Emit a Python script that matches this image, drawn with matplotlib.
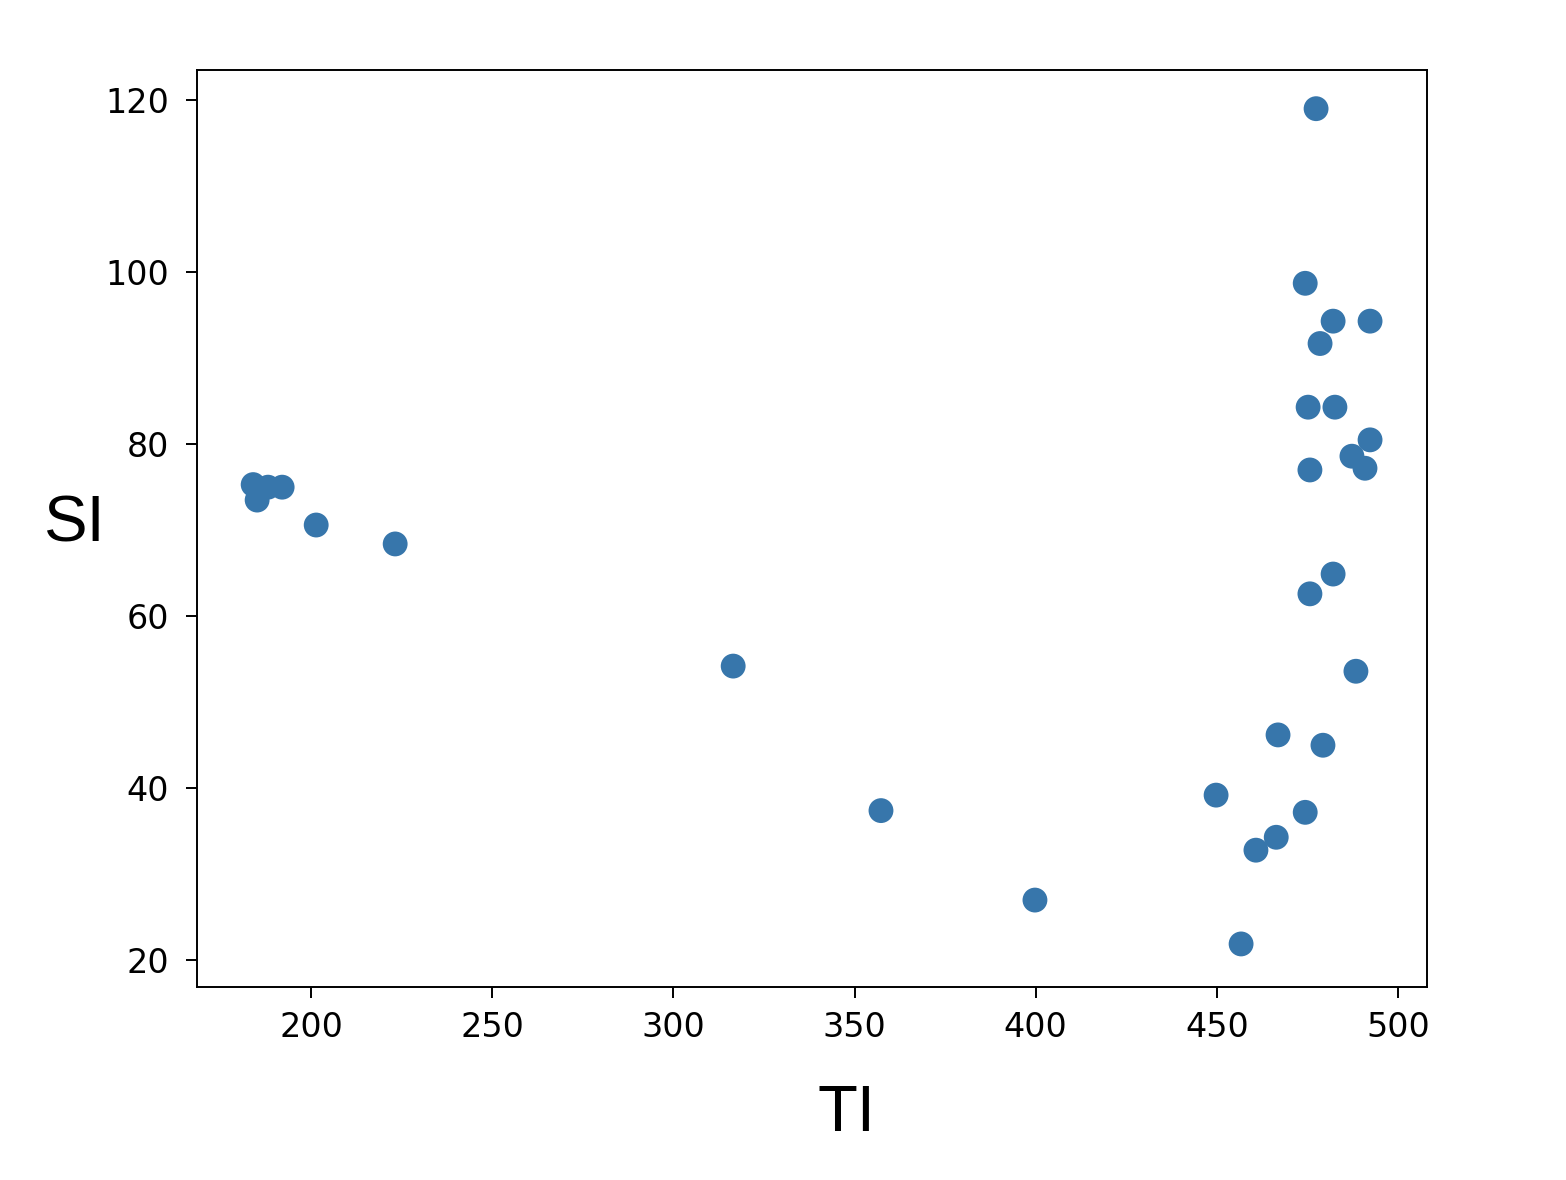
import numpy as np
import matplotlib.pyplot as plt

ti = [184.0, 185.1, 188.1, 192.0, 201.4, 223.2, 316.5, 357.3, 399.8, 449.8,
      456.7, 460.8, 466.4, 466.9, 474.4, 479.3, 488.4, 475.7, 482.1, 475.7,
      487.3, 490.9, 492.3, 475.2, 482.6, 478.5, 482.1, 492.3, 474.4, 477.4]
si = [75.3, 73.5, 75.0, 75.0, 70.6, 68.4, 54.2, 37.4, 27.0, 39.2,
      21.9, 32.8, 34.3, 46.2, 37.2, 45.0, 53.6, 62.6, 64.9, 77.0,
      78.6, 77.2, 80.5, 84.3, 84.3, 91.7, 94.3, 94.3, 98.7, 119.0]

fig = plt.figure(figsize=(15.66, 11.8), dpi=100)
ax = fig.add_axes([0.1258, 0.1636, 0.7854, 0.7771])

ax.scatter(ti, si, s=320, color='#3776ab', edgecolors='none')

ax.set_xlim(168.5, 508.0)
ax.set_ylim(16.9, 123.5)
ax.set_xticks([200, 250, 300, 350, 400, 450, 500])
ax.set_yticks([20, 40, 60, 80, 100, 120])
ax.tick_params(labelsize=24, length=8, width=1.4)
ax.tick_params(axis='x', pad=9)
ax.tick_params(axis='y', pad=12)
for sp in ax.spines.values():
    sp.set_linewidth(1.4)

ax.set_xlabel('TI', fontsize=47, family='Liberation Sans', va='baseline', ha='center')
ax.xaxis.set_label_coords(0.528, -0.157)
ax.set_ylabel('SI', fontsize=47, family='Liberation Sans', rotation=0, va='baseline', ha='center')
ax.yaxis.set_label_coords(-0.0992, 0.4853)

plt.savefig('out.png', dpi=100)
